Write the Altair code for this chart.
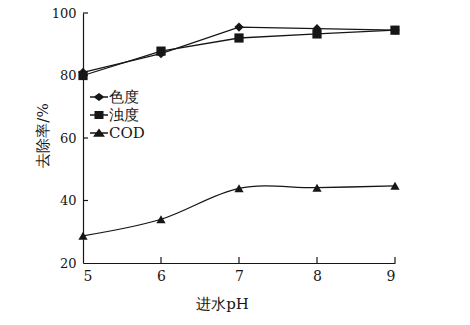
import altair as alt
import pandas as pd

ph = [5, 6, 7, 8, 9]
series_names = ["色度", "浊度", "COD"]
color_removal = [81.0, 87.0, 95.5, 95.0, 94.5]
turbidity_removal = [80.0, 87.8, 92.0, 93.3, 94.5]
cod_removal = [28.7, 34.0, 43.9, 44.1, 44.7]
x_tick_values = [5, 6, 7, 8, 9]
y_tick_values = [20, 40, 60, 80, 100]
x_inner_ticks = [6, 7, 8, 9]
y_inner_ticks = [40, 60, 80, 100]

rows = []
for name, vals in zip(series_names, [color_removal, turbidity_removal, cod_removal]):
    for p, v in zip(ph, vals):
        rows.append({"ph": p, "rate": v, "series": name})
df = pd.DataFrame(rows)

FONT = "DejaVu Serif"
INK = "#161616"
W, H = 312, 250

xs = alt.Scale(domain=[5, 9], nice=False, zero=False)
ys = alt.Scale(domain=[20, 100], nice=False, zero=False)

xaxis = alt.Axis(values=x_tick_values, format="d", ticks=False, tickSize=0, grid=False,
                 domainColor=INK, domainWidth=1.2, labelFont=FONT, labelFontSize=14,
                 labelColor=INK, labelPadding=6, title="进水pH", titleFont=FONT,
                 titleFontSize=15, titleFontWeight="normal", titleColor=INK,
                 titleX=139, titleY=40, titleBaseline="middle", titleAlign="center")
yaxis = alt.Axis(values=y_tick_values, format="d", ticks=False, tickSize=0, grid=False,
                 domainColor=INK, domainWidth=1.2, labelFont=FONT, labelFontSize=13,
                 labelColor=INK, labelPadding=7, title="去除率/%", titleFont=FONT,
                 titleFontSize=15, titleFontWeight="normal", titleColor=INK,
                 titleX=-41, titleY=122, titleBaseline="middle", titleAlign="center")

straight = alt.Chart(df).transform_filter(alt.datum.series != "COD").mark_line(
    color=INK, strokeWidth=1.3
).encode(
    x=alt.X("ph:Q", scale=xs, axis=xaxis),
    y=alt.Y("rate:Q", scale=ys, axis=yaxis),
    detail="series:N",
)

cod_line = alt.Chart(df).transform_filter(alt.datum.series == "COD").mark_line(
    color=INK, strokeWidth=1.3, interpolate="cardinal"
).encode(
    x=alt.X("ph:Q", scale=xs),
    y=alt.Y("rate:Q", scale=ys),
)

points = alt.Chart(df).mark_point(filled=True, color=INK, opacity=1, size=85).encode(
    x=alt.X("ph:Q", scale=xs),
    y=alt.Y("rate:Q", scale=ys),
    shape=alt.Shape("series:N", legend=None,
                    scale=alt.Scale(domain=series_names,
                                    range=["diamond", "square", "triangle-up"])),
)

BAR = "M-1,-0.07H1V0.07H-1Z"
legend_paths = [
    BAR + "M0,-0.45L0.62,0L0,0.45L-0.62,0Z",
    BAR + "M-0.5,-0.45H0.5V0.45H-0.5Z",
    BAR + "M0,-0.5L0.66,0.42H-0.66Z",
]

legend_layer = alt.Chart(df).mark_point(filled=True, color=INK, opacity=0, size=324).encode(
    x=alt.X("ph:Q", scale=xs),
    y=alt.Y("rate:Q", scale=ys),
    shape=alt.Shape("series:N", title=None,
                    scale=alt.Scale(domain=series_names, range=legend_paths),
                    legend=alt.Legend(orient="none", legendX=7, legendY=75,
                                      labelFont=FONT, labelFontSize=15, labelColor=INK,
                                      labelOffset=1, rowPadding=1, symbolSize=324,
                                      symbolFillColor=INK, symbolStrokeWidth=0,
                                      symbolOpacity=1)),
)

yt = pd.DataFrame({"v": y_inner_ticks})
xt = pd.DataFrame({"v": x_inner_ticks})
y_ticks = alt.Chart(yt).mark_rule(color=INK, strokeWidth=1.2).encode(
    y=alt.Y("v:Q", scale=ys), x=alt.value(0), x2=alt.value(5)
)
x_ticks = alt.Chart(xt).mark_rule(color=INK, strokeWidth=1.2).encode(
    x=alt.X("v:Q", scale=xs), y=alt.value(H), y2=alt.value(H - 6)
)

chart = alt.layer(straight, cod_line, y_ticks, x_ticks, points, legend_layer).resolve_scale(
    shape="independent"
).properties(
    width=W, height=H,
    autosize=alt.AutoSizeParams(type="none"),
    padding={"left": 83, "top": 13, "right": 75, "bottom": 62},
    background="white",
).configure_view(stroke="transparent")

chart.save("out.html", embed_options={"renderer": "svg", "actions": False})
